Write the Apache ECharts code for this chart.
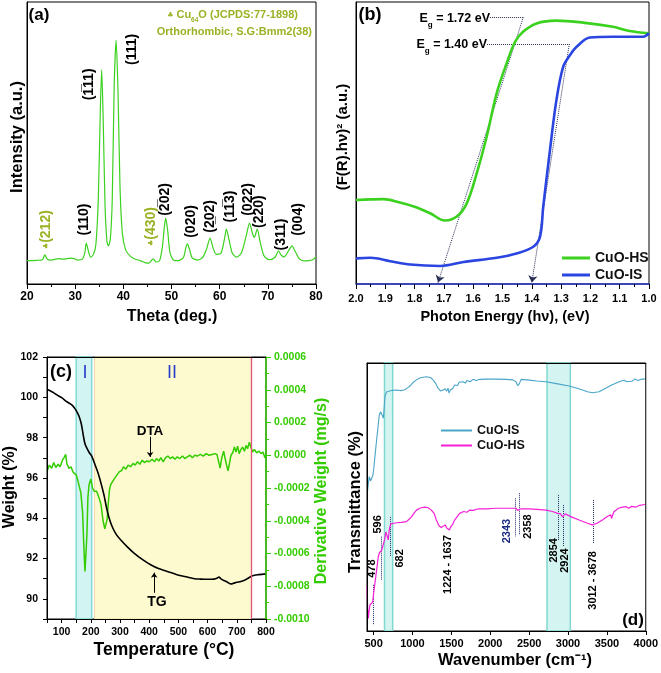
<!DOCTYPE html>
<html><head><meta charset="utf-8">
<script src="https://cdn.jsdelivr.net/npm/echarts@6/dist/echarts.min.js"></script>
<style>html,body{margin:0;padding:0;background:#fff}#c{width:661px;height:673px}</style>
</head><body><div id="c"></div>
<script>
const FF = '"Liberation Sans", Arial, sans-serif';

// ---------- (a) XRD ----------
const xrdTheta = [20,22,23.2,23.7,24.2,25,26.5,27.5,29,29.8,30.5,31.5,32,32.3,32.7,33.2,33.8,34.3,34.8,35.2,35.5,35.8,36.2,36.6,36.9,37.3,37.7,38.1,38.5,38.9,39.3,39.8,40.5,41.5,42.5,43.5,44.5,45.3,46.2,46.8,47.5,48.1,48.5,48.8,49.2,49.7,50.5,51.5,52.5,53.0,53.3,53.7,54.3,55.5,56.5,57.3,58.0,58.6,59.3,60.3,61.0,61.4,61.9,62.6,63.5,64.5,65.5,66.2,66.8,67.2,67.8,68.4,69.2,70.3,71.5,72.2,72.8,73.4,74.3,75.0,75.7,76.5,77.5,78.5,79.3,80];
const xrdIntensity = [8.3,8.4,8.6,10.3,8.8,8.5,9.0,8.8,9.2,9.0,8.5,8.8,11,14.5,12,9.5,10.5,14,30,60,76,60,28,15,13.5,16,30,70,86.5,68,35,18,12,9.8,8.8,8.3,7.6,7.4,8.9,7.8,8.2,13,20,23.4,19,11,8.4,8.3,9.5,13,14.2,12.5,9.3,8.5,9.5,12.5,16.3,13,10.5,11,16,19.5,16,11,9.5,11,17,21.6,18,16.5,19.5,15,10,8.6,9.5,11.7,10.2,9.6,11.8,13.5,11.5,9,8.2,8.3,8.6,9.6];
const xrdLabelText = ['(212)','(110)','(1\u030511)','(111)','(430)','(2\u030502)','(020)','(2\u033202)','(11\u03053)','(022)','(220)','(311)','(004)'];
const xrdLabelTheta = [24.15,32.0,33.1,42.0,45.9,48.8,54.2,58.2,62.3,66.1,68.3,72.9,76.4];
const xrdLabelY = [19.1,22.7,70.6,83,20.2,29.8,22,23.8,27.3,29.8,25.5,17.4,22.7];
const xrdLabelCu64O = [true,false,false,false,true,false,false,false,false,false,false,false,false];

// ---------- (b) Tauc ----------
const hsEnergy = [2.0,1.95,1.906,1.86,1.80,1.747,1.696,1.656,1.622,1.588,1.554,1.52,1.486,1.457,1.429,1.384,1.316,1.225,1.123,1.066,1.0];
const hsValue  = [29.8,30.0,30.1,29.2,27.4,25.1,22.5,23.9,28.6,39.2,52.2,67.6,78.2,85.9,89.5,92.4,93.4,92.7,91.2,89.7,88.9];
const isEnergy = [2.0,1.951,1.883,1.815,1.713,1.633,1.52,1.452,1.395,1.372,1.361,1.338,1.316,1.293,1.27,1.247,1.202,1.123,1.02,1.0];
const isValue  = [9.1,9.3,8.1,6.9,6.4,7.8,9.3,10.8,13.2,16.7,27.4,47.5,65.2,77.0,81.1,84.1,87.4,87.7,87.7,88.9];
const bandGapLabels = ['1.72','1.40'];
const bandGapEg = [1.72, 1.40];

// ---------- (c) TGA / DTA ----------
const tgTemp   = [50,70,84,100,118,135,145,152,160,167,171,175,180,187,195,204,212,221,230,238,246,253,262,273,287,302,325,348,375,405,432,462,495,530,555,576,600,622,632,639,645,651,665,675,680,690,700,714,730,754,775,800];
const tgWeight = [100.4,100.25,100.12,99.98,99.78,99.62,99.45,99.29,99.05,98.71,98.4,98.05,97.7,97.47,97.25,97.06,96.75,96.4,96.0,95.57,95.1,94.58,94.05,93.59,93.2,92.93,92.58,92.27,91.97,91.69,91.5,91.36,91.2,91.08,91.0,90.98,90.97,90.98,91.02,91.08,91.0,90.94,90.85,90.76,90.74,90.78,90.82,90.86,90.95,91.14,91.2,91.24];
const dtaTemp  = [50,58,66,73,80,88,95,103,110,114,118,125,132,140,150,155,160,166,172,176,180,184,187,190,194,200,206,212,220,228,235,242,248,252,256,260,264,268,275,282,290,298,305,312,320,328,336,345,352,360,368,376,384,392,400,410,418,425,433,440,448,456,464,472,480,488,496,505,514,522,530,540,548,556,565,575,585,595,605,615,625,632,638,643,648,655,660,665,670,675,680,686,692,697,703,708,714,720,726,732,737,743,748,754,760,768,776,783,790,796,800];
const dtaDeriv = [-0.99e-4,-0.6e-4,-0.8e-4,-0.45e-4,-0.75e-4,-0.55e-4,-0.7e-4,-0.3e-4,-0.1e-4,0.05e-4,-0.5e-4,-0.8e-4,-0.7e-4,-1.05e-4,-1.2e-4,-1.5e-4,-1.6e-4,-2.3e-4,-3.5e-4,-5.5e-4,-7.1e-4,-5.8e-4,-4.7e-4,-2.6e-4,-1.8e-4,-1.45e-4,-2.0e-4,-2.2e-4,-2.2e-4,-2.6e-4,-3.0e-4,-4.0e-4,-4.5e-4,-4.4e-4,-3.9e-4,-2.9e-4,-2.1e-4,-1.8e-4,-1.6e-4,-1.4e-4,-1.2e-4,-1.0e-4,-0.95e-4,-0.7e-4,-0.85e-4,-0.6e-4,-0.7e-4,-0.5e-4,-0.6e-4,-0.4e-4,-0.55e-4,-0.3e-4,-0.45e-4,-0.35e-4,-0.4e-4,-0.25e-4,-0.4e-4,-0.2e-4,-0.35e-4,-0.15e-4,-0.4e-4,-0.15e-4,-0.05e-4,-0.2e-4,-0.1e-4,-0.25e-4,-0.1e-4,-0.2e-4,-0.05e-4,-0.2e-4,-0.1e-4,0.0,-0.15e-4,0.0,-0.05e-4,0.05e-4,-0.05e-4,0.1e-4,0.0,0.05e-4,0.1e-4,0.05e-4,-0.4e-4,-0.78e-4,-0.2e-4,0.25e-4,-0.2e-4,-0.6e-4,-0.95e-4,-0.5e-4,0.0,0.15e-4,0.5e-4,0.2e-4,0.55e-4,0.1e-4,0.35e-4,0.5e-4,0.25e-4,0.6e-4,0.4e-4,0.8e-4,0.5e-4,0.2e-4,0.35e-4,0.15e-4,0.25e-4,0.1e-4,0.2e-4,-0.15e-4,0.05e-4];
const tgaRegionI  = [150, 203];
const tgaRegionII = [213, 750];

// ---------- (d) FTIR ----------
const ftIsWave  = [419,432,444,460,475,490,505,520,539,556,573,590,604,615,625,635,646,665,688,740,795,850,902,940,966,1010,1051,1100,1180,1230,1265,1300,1329,1360,1393,1420,1440,1457,1470,1487,1500,1520,1542,1560,1580,1600,1620,1649,1680,1700,1740,1780,1820,1862,1950,2076,2200,2290,2330,2354,2375,2397,2500,2600,2717,2850,3015,3150,3250,3314,3400,3485,3560,3600,3620,3656,3680,3720,3760,3784,3820,3860,3900,3950,3989];
const ftIsTrans = [51.4,55,57.6,56,55.7,58,61.3,66,71.3,76,80.6,81.8,81.5,80.2,79.4,83,87.4,89.2,89.7,89.8,89.9,89.7,90.0,90.8,91.4,92.8,93.7,94.5,94.9,94.6,93.7,92.3,90.6,89.6,89.9,90.4,89.5,90.6,88.8,89.9,89.2,90.6,91.8,92.2,91.6,92.8,92.3,93.0,92.5,93.5,93.0,93.9,93.5,93.9,94.0,94.0,93.9,93.7,93.0,91.5,92.3,93.9,93.6,93.3,93.0,92.3,91.4,90.3,89.3,88.9,89.3,90.6,91.8,92.3,91.6,93.0,92.4,93.6,93.0,93.7,93.2,94.0,93.5,94.0,94.0];
const ftHsWave  = [415,424,432,440,453,470,488,500,517,540,560,575,590,605,625,640,658,672,688,700,719,760,795,860,923,960,987,1020,1051,1100,1158,1200,1243,1280,1307,1340,1370,1393,1420,1440,1457,1475,1487,1500,1520,1542,1570,1606,1630,1660,1700,1734,1780,1850,1950,2076,2200,2332,2350,2366,2400,2503,2600,2717,2800,2866,2900,2930,2964,3050,3143,3250,3314,3380,3442,3500,3549,3560,3570,3590,3605,3650,3698,3720,3750,3780,3820,3870,3920,3989];
const ftHsTrans = [16.5,8,4.7,7,9.7,9.2,10.9,14,17.8,23,27.7,29.2,29.6,30.2,30.8,34,37.0,36.5,34.0,37.5,39.9,40.2,40.4,40.5,40.8,41.8,42.6,44,45.1,45.9,46.2,46,45.1,43.8,41.4,39.3,38.6,38.9,39.6,38.4,39.1,37.7,38.6,38.3,40,41.4,42.5,43.9,43.4,44.6,44.3,45.1,45.0,45.6,45.6,45.8,45.8,45.8,45.0,45.0,45.6,45.6,45.4,45.1,44.6,43.9,43.8,42.6,43.7,42.5,41.4,40.2,39.6,40.3,41.4,42.6,43.4,42.0,41.4,44.5,45.1,45.8,46.2,45.5,46.4,45.8,46.5,46.2,46.9,47.2];
const ftBandA = [640, 745];
const ftBandB = [2730, 3030];
const ftLabelText = ['478','596','682','1224 - 1637','2343','2358','2854','2924','3012 - 3678'];
const ftLabelWave = [488,560,846,1468,2224,2492,2821,2971,3333];
const ftLabelY    = [23.1,39.6,26.9,24.6,37.1,38.8,29.9,26.1,18.7];
const ftMarkWave  = [496,603,709,2322,2373,2869,2937,3321];
const ftMarkTop   = [17.2,35.2,42.6,49.5,51.4,50.7,47.0,48.9];
const ftMarkBot   = [2.2,19.0,27.7,35.2,35.8,34.0,31.5,32.7];
const ftTicks = [500,1000,1500,2000,2500,3000,3500,4000];

const zip = (a, b) => a.map((v, i) => [v, b[i]]);

const GREEN = '#3bd11f', BLUE = '#2b45e0', OLIVE = '#9ab224', TEAL = '#4aa5c8', MAG = '#f520d6', DGREEN = '#33cc00';

function baseAxis(extra) {
  return Object.assign({
    type: 'value',
    axisLine: { show: true, onZero: false, lineStyle: { color: '#000', width: 1 } },
    axisTick: { show: true, inside: false, length: 5, lineStyle: { color: '#000' } },
    axisLabel: { color: '#000', fontFamily: FF, fontWeight: 'bold', fontSize: 11 },
    splitLine: { show: false }
  }, extra);
}

const labelRich = {
  c: { fontFamily: 'DejaVu Sans', fontSize: 7, color: OLIVE, textBorderWidth: 0 },
  o: { fontFamily: FF, fontWeight: 'bold', fontSize: 14, color: OLIVE, textBorderWidth: 0 },
  k: { fontFamily: FF, fontWeight: 'bold', fontSize: 14, color: '#000', textBorderWidth: 0 }
};

const option = {
  animation: false,
  backgroundColor: '#fff',
  grid: [
    { left: 27, top: 2, width: 289, height: 282, show: true, borderColor: '#000', borderWidth: 1 },
    { left: 356, top: 2, width: 293, height: 282, show: true, borderColor: '#000', borderWidth: 1 },
    { left: 47, top: 357, width: 219, height: 262, show: true, borderColor: '#000', borderWidth: 1 },
    { left: 367, top: 363, width: 280, height: 268, show: true, borderColor: '#000', borderWidth: 1 }
  ],
  xAxis: [
    baseAxis({ gridIndex: 0, min: 20, max: 80, interval: 10,
      minorTick: { show: true, splitNumber: 2, length: 3, lineStyle: { color: '#000' } },
      axisLabel: { color: '#000', fontFamily: FF, fontWeight: 'bold', fontSize: 12, margin: 7 } }),
    baseAxis({ gridIndex: 1, min: 1.0, max: 2.0, interval: 0.1, inverse: true,
      axisLine: { show: true, onZero: false, lineStyle: { color: '#2236c8', width: 1.5 } },
      minorTick: { show: true, splitNumber: 2, length: 3, lineStyle: { color: '#000' } },
      axisLabel: { color: '#000', fontFamily: FF, fontWeight: 'bold', fontSize: 11, margin: 9, formatter: v => v.toFixed(1) } }),
    baseAxis({ gridIndex: 2, min: 50, max: 800, interval: 50, z: 5,
      axisTick: { show: true, length: 4, lineStyle: { color: '#000' } },
      axisLabel: { color: '#000', fontFamily: FF, fontWeight: 'bold', fontSize: 10.5, margin: 8,
        formatter: v => (Math.round(v) % 100 === 0 ? String(Math.round(v)) : '') } }),
    baseAxis({ gridIndex: 3, min: 415, max: 4000, z: 5,
      axisTick: { show: true, length: 4, customValues: ftTicks, lineStyle: { color: '#000' } },
      axisLabel: { color: '#000', fontFamily: FF, fontWeight: 'bold', fontSize: 11, margin: 7, customValues: ftTicks,
        formatter: v => String(Math.round(v)) } }),
    baseAxis({ gridIndex: 2, min: 50, max: 800, position: 'top', z: 5, axisTick: { show: false }, axisLabel: { show: false } }),
    baseAxis({ gridIndex: 3, min: 415, max: 4000, position: 'top', z: 5, axisTick: { show: false }, axisLabel: { show: false } })
  ],
  yAxis: [
    baseAxis({ gridIndex: 0, min: 0, max: 100, axisTick: { show: false }, axisLabel: { show: false } }),
    baseAxis({ gridIndex: 1, min: 0, max: 100, axisTick: { show: false }, axisLabel: { show: false } }),
    baseAxis({ gridIndex: 2, min: 89, max: 102, interval: 1, z: 5,
      axisTick: { show: true, length: 4, lineStyle: { color: '#000' } },
      axisLabel: { color: '#000', fontFamily: FF, fontWeight: 'bold', fontSize: 10.5, margin: 9,
        formatter: v => (Math.round(v) % 2 === 0 ? String(Math.round(v)) : '') } }),
    baseAxis({ gridIndex: 2, min: -0.001, max: 0.0006, interval: 0.0002, position: 'right', z: 5,
      axisLine: { show: true, onZero: false, lineStyle: { color: DGREEN, width: 1.5 } },
      axisTick: { show: true, length: 5, lineStyle: { color: DGREEN } },
      minorTick: { show: true, splitNumber: 2, length: 3, lineStyle: { color: DGREEN } },
      axisLabel: { color: DGREEN, fontFamily: FF, fontWeight: 'bold', fontSize: 10.5, margin: 8, formatter: v => v.toFixed(4) } }),
    baseAxis({ gridIndex: 3, min: 0, max: 100, z: 5, axisTick: { show: false }, axisLabel: { show: false } })
  ],
  legend: [
    { left: 557, top: 246, orient: 'vertical', icon: 'rect', itemWidth: 28, itemHeight: 3, itemGap: 3, selectedMode: false,
      textStyle: { fontFamily: FF, fontWeight: 'bold', fontSize: 14, color: '#111' },
      data: [{ name: 'CuO-HS', itemStyle: { color: GREEN } }, { name: 'CuO-IS', itemStyle: { color: BLUE } }] },
    { left: 436, top: 419, orient: 'vertical', icon: 'rect', itemWidth: 31, itemHeight: 2, itemGap: 2, selectedMode: false,
      textStyle: { fontFamily: FF, fontWeight: 'bold', fontSize: 12.5, color: '#111' },
      data: [{ name: 'CuO-IS', itemStyle: { color: TEAL } }, { name: 'CuO-HS', itemStyle: { color: MAG } }] }
  ],
  series: [
    { type: 'line', name: 'XRD', xAxisIndex: 0, yAxisIndex: 0, data: zip(xrdTheta, xrdIntensity),
      showSymbol: false, smooth: 0.25, lineStyle: { color: GREEN, width: 1.2 }, itemStyle: { color: GREEN }, silent: true },
    { type: 'scatter', name: 'xrdLabels', xAxisIndex: 0, yAxisIndex: 0, symbolSize: 1, itemStyle: { color: '#fff', opacity: 0 }, silent: true,
      data: xrdLabelText.map((t, i) => ({ value: [xrdLabelTheta[i], xrdLabelY[i]], name: t })),
      label: { show: true, position: [0, 0], align: 'center', verticalAlign: 'middle', rotate: 90, opacity: 1,
        fontFamily: FF, fontWeight: 'bold', fontSize: 14, color: '#000', textBorderWidth: 0,
        formatter: p => (xrdLabelCu64O[p.dataIndex] ? '{c|\u2663}{o|' + p.name + '}' : '{k|' + p.name + '}'),
        rich: labelRich } },
    { type: 'line', name: 'CuO-HS', xAxisIndex: 1, yAxisIndex: 1, data: zip(hsEnergy, hsValue), showSymbol: false, smooth: 0.35,
      lineStyle: { color: GREEN, width: 2.6 }, itemStyle: { color: GREEN }, silent: true },
    { type: 'line', name: 'CuO-IS', xAxisIndex: 1, yAxisIndex: 1, data: zip(isEnergy, isValue), showSymbol: false, smooth: 0.35,
      lineStyle: { color: BLUE, width: 2.6 }, itemStyle: { color: BLUE }, silent: true },
    { type: 'lines', coordinateSystem: 'cartesian2d', xAxisIndex: 1, yAxisIndex: 1, silent: true, symbol: ['none', 'none'],
      lineStyle: { color: '#2a2f55', type: 'dotted', width: 1, opacity: 1 },
      data: [{ coords: [[1.543, 94.6], [1.429, 94.6]] }, { coords: [[1.553, 85.1], [1.272, 85.1]] }] },
    { type: 'lines', coordinateSystem: 'cartesian2d', xAxisIndex: 1, yAxisIndex: 1, silent: true, symbol: ['none', 'arrow'], symbolSize: 7,
      lineStyle: { color: '#2a2f55', type: 'dotted', width: 1, opacity: 1 },
      data: [{ coords: [[1.429, 94.6], [bandGapEg[0], 0.5]] }, { coords: [[1.272, 85.1], [bandGapEg[1], 0.5]] }] },
    { type: 'line', name: 'TG', xAxisIndex: 2, yAxisIndex: 2, data: zip(tgTemp, tgWeight), showSymbol: false, smooth: 0.3,
      lineStyle: { color: '#000', width: 1.6 }, itemStyle: { color: '#000' }, silent: true, z: 4,
      markArea: { silent: true, data: [
        [{ xAxis: tgaRegionI[0], itemStyle: { color: '#d2f4f2', borderColor: '#7fddd4', borderWidth: 1.5 } }, { xAxis: tgaRegionI[1] }],
        [{ xAxis: tgaRegionII[0], itemStyle: { color: '#fdfad0', borderColor: '#f1d9a5', borderWidth: 1 } }, { xAxis: tgaRegionII[1] }]
      ] },
      markLine: { silent: true, symbol: ['none', 'none'], label: { show: false },
        lineStyle: { color: '#e4557d', type: 'solid', width: 1.3 }, data: [{ xAxis: tgaRegionII[1] }] } },
    { type: 'line', name: 'DTA', xAxisIndex: 2, yAxisIndex: 3, data: zip(dtaTemp, dtaDeriv), showSymbol: false,
      lineStyle: { color: DGREEN, width: 1.5 }, itemStyle: { color: DGREEN }, silent: true, z: 3 },
    { type: 'lines', coordinateSystem: 'cartesian2d', xAxisIndex: 2, yAxisIndex: 3, silent: true, symbol: ['none', 'arrow'], symbolSize: 5,
      lineStyle: { color: '#000', width: 1, opacity: 1 }, data: [{ coords: [[403, 0.000113], [403, -0.00001]] }] },
    { type: 'lines', coordinateSystem: 'cartesian2d', xAxisIndex: 2, yAxisIndex: 2, silent: true, symbol: ['none', 'arrow'], symbolSize: 5,
      lineStyle: { color: '#000', width: 1, opacity: 1 }, data: [{ coords: [[417, 90.3], [417, 91.3]] }] },
    { type: 'line', name: 'CuO-IS', xAxisIndex: 3, yAxisIndex: 4, data: zip(ftIsWave, ftIsTrans), showSymbol: false,
      lineStyle: { color: TEAL, width: 1.1 }, itemStyle: { color: TEAL }, silent: true,
      markArea: { silent: true, itemStyle: { color: '#d4f4f2', borderColor: '#80d8d0', borderWidth: 1.5 },
        data: [[{ xAxis: ftBandA[0] }, { xAxis: ftBandA[1] }], [{ xAxis: ftBandB[0] }, { xAxis: ftBandB[1] }]] } },
    { type: 'line', name: 'CuO-HS', xAxisIndex: 3, yAxisIndex: 4, data: zip(ftHsWave, ftHsTrans), showSymbol: false,
      lineStyle: { color: MAG, width: 1.2 }, itemStyle: { color: MAG }, silent: true },
    { type: 'lines', coordinateSystem: 'cartesian2d', xAxisIndex: 3, yAxisIndex: 4, silent: true, symbol: ['none', 'none'],
      lineStyle: { color: '#1e2a66', type: 'dotted', width: 1, opacity: 1 },
      data: ftMarkWave.map((w, i) => ({ coords: [[w, ftMarkTop[i]], [w, ftMarkBot[i]]] })) },
    { type: 'scatter', name: 'ftLabels', xAxisIndex: 3, yAxisIndex: 4, symbolSize: 1, itemStyle: { color: '#fff', opacity: 0 }, silent: true,
      data: ftLabelText.map((t, i) => ({ value: [ftLabelWave[i], ftLabelY[i]], name: t })),
      label: { show: true, position: [0, 0], align: 'center', verticalAlign: 'middle', rotate: 90, opacity: 1,
        formatter: p => (p.name === '2343' ? '{b|' + p.name + '}' : '{k|' + p.name + '}'),
        fontFamily: FF, fontWeight: 'bold', fontSize: 11, color: '#000', textBorderWidth: 0,
        rich: { k: { fontFamily: FF, fontWeight: 'bold', fontSize: 11, color: '#000' },
                b: { fontFamily: FF, fontWeight: 'bold', fontSize: 11, color: '#1a2a80' } } } }
  ],
  graphic: []
};

function T(x, y, text, font, fill, rot, extra) {
  return {
    type: 'text', x: x, y: y, rotation: rot || 0, silent: true, z: 100,
    style: Object.assign({ text: text, font: font, fill: fill || '#000',
      align: 'center', verticalAlign: 'middle', textAlign: 'center', textVerticalAlign: 'middle' }, (extra || {}))
  };
}
const B = s => 'bold ' + s + 'px ' + FF;
const V = Math.PI / 2;
const g = option.graphic;
// panel letters
g.push(T(39, 15, '(a)', B(17)));
g.push(T(370, 15, '(b)', B(18)));
g.push(T(61, 372, '(c)', B(18)));
g.push(T(633, 620, '(d)', B(17)));
// (a) legend text
g.push(T(298, 15, '{c|\u2663} Cu{s|64}O (JCPDS:77-1898)', B(11), OLIVE, 0, {
  align: 'right', textAlign: 'right',
  rich: { c: { fontFamily: 'DejaVu Sans', fontSize: 7, fill: OLIVE, lineHeight: 14 },
          s: { fontFamily: FF, fontWeight: 'bold', fontSize: 6.5, fill: OLIVE, lineHeight: 18, verticalAlign: 'bottom' } } }));
g.push(T(312, 32, 'Orthorhombic, S.G:Bmm2(38)', B(11), OLIVE, 0, { align: 'right', textAlign: 'right' }));
// (b) Eg texts
const egRich = { g: { fontFamily: FF, fontWeight: 'bold', fontSize: 8, fill: '#000', lineHeight: 20, verticalAlign: 'bottom' } };
g.push(T(490, 19, 'E{g|g} = ' + bandGapLabels[0] + ' eV', B(12.5), '#000', 0, { align: 'right', textAlign: 'right', rich: egRich }));
g.push(T(487, 45, 'E{g|g} = ' + bandGapLabels[1] + ' eV', B(12.5), '#000', 0, { align: 'right', textAlign: 'right', rich: egRich }));
// (c) annotations
g.push(T(85, 373, 'I', '18px ' + FF, '#2a3fc9'));
g.push(T(172, 373, 'II', '18px ' + FF, '#2a3fc9'));
g.push(T(150, 431, 'DTA', B(13.5)));
g.push(T(157, 602, 'TG', B(14)));
// axis titles
g.push(T(172, 317, 'Theta (deg.)', B(16)));
g.push(T(17, 137, 'Intensity (a.u.)', B(16.5), '#000', V));
g.push(T(505, 317, 'Photon Energy (h\u03bd), (eV)', B(14.5)));
g.push(T(343, 137, '(F(R).h\u03bd)\u00b2 (a.u.)', B(15), '#000', V));
g.push(T(164, 650, 'Temperature (\u00b0C)', B(17.5)));
g.push(T(10, 487, 'Weight (%)', B(16), '#000', V));
g.push(T(322, 491, 'Derivative Weight (mg/s)', B(16), DGREEN, V));
g.push(T(515, 660, 'Wavenumber (cm\u207b\u00b9)', B(16.5)));
g.push(T(355, 502, 'Transmittance (%)', B(16.5), '#000', V));

const chart = echarts.init(document.getElementById('c'), null, { renderer: 'canvas' });
chart.setOption(option);
</script></body></html>
